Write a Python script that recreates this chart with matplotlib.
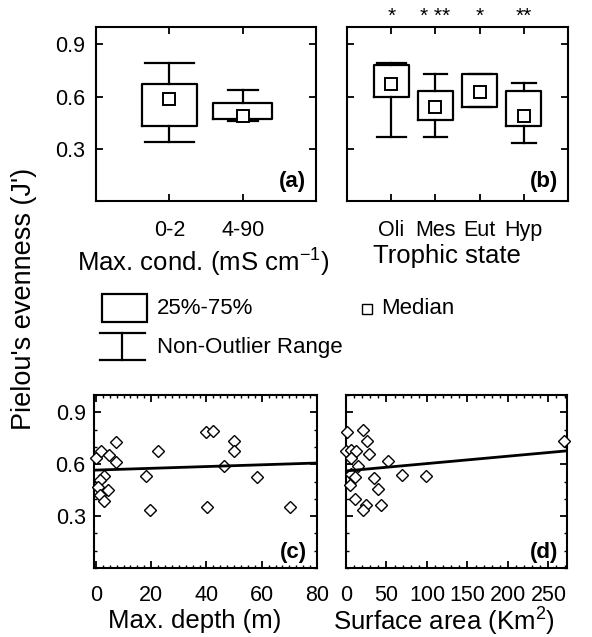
import numpy as np
import matplotlib
matplotlib.use("Agg")
import matplotlib.pyplot as plt
import matplotlib.ticker as mtick
import matplotlib.transforms as mtrans
from matplotlib.patches import Rectangle

plt.rcParams['font.family'] = ['Liberation Sans', 'DejaVu Sans']
plt.rcParams['mathtext.fontset'] = 'custom'
plt.rcParams['mathtext.rm'] = 'Liberation Sans'
plt.rcParams['mathtext.it'] = 'Liberation Sans:italic'
plt.rcParams['mathtext.bf'] = 'Liberation Sans:bold'

# (a) max. conductivity classes
cond_labels = ["0-2", "4-90"]
cond_q1 = [0.43, 0.47]
cond_q3 = [0.675, 0.565]
cond_med = [0.585, 0.49]
cond_lo = [0.34, 0.457]
cond_hi = [0.795, 0.64]

# (b) trophic state
troph_labels = ["Oli", "Mes", "Eut", "Hyp"]
troph_q1 = [0.595, 0.465, 0.54, 0.43]
troph_q3 = [0.78, 0.635, 0.73, 0.635]
troph_med = [0.675, 0.54, 0.625, 0.49]
troph_lo = [0.365, 0.365, 0.54, 0.335]
troph_hi = [0.795, 0.73, 0.73, 0.68]
troph_sig = ["*", "* **", "*", "**"]

# (c) max. depth (m) vs J'
depth_m = [0, 1.8, 4.6, 7.4, 7.4, 22.5, 2.9, 1.3, 0.7, 4.3, 1.3, 2.9,
           18.1, 19.4, 40, 42.3, 49.9, 49.9, 46.5, 58.3, 40.1, 70.2]
depth_j = [0.638, 0.676, 0.653, 0.73, 0.611, 0.676, 0.534, 0.509, 0.47, 0.451, 0.422, 0.387,
           0.534, 0.335, 0.788, 0.792, 0.734, 0.676, 0.591, 0.524, 0.354, 0.354]
depth_fit = [0.566, 0.00051]   # intercept, slope

# (d) surface area (km2) vs J'
area_km2 = [1.6, 21, 26, 0.4, 6.5, 12.7, 29, 6.5, 14.8, 52, 6.5, 10.7,
            35, 4.6, 39.5, 10.7, 25, 21, 43, 69, 99, 269]
area_j = [0.788, 0.798, 0.734, 0.676, 0.682, 0.676, 0.657, 0.634, 0.591, 0.618, 0.542, 0.528,
          0.518, 0.48, 0.457, 0.399, 0.364, 0.335, 0.364, 0.538, 0.532, 0.734]
area_fit = [0.561, 0.000426]

W, H = 592, 637
TICK_FS = 15.5
LABEL_FS = 18.5
TAG_FS = 16

fig = plt.figure(figsize=(W / 100, H / 100), dpi=100)


def px_axes(x0, y0, x1, y1):
    return fig.add_axes([x0 / W, 1 - y1 / H, (x1 - x0) / W, (y1 - y0) / H])


def style(ax, lw=1.5):
    for s in ax.spines.values():
        s.set_linewidth(lw)
    ax.set_ylim(0, 1.0)
    ax.yaxis.set_major_locator(mtick.FixedLocator([0.3, 0.6, 0.9]))
    ax.yaxis.set_major_formatter(mtick.FormatStrFormatter('%.1f'))


def boxes(ax, q1, q3, med, lo, hi, labels, widths, caps):
    pos = np.arange(1, len(labels) + 1)
    stats = [dict(q1=a, q3=b, med=m, whislo=l, whishi=h, fliers=[])
             for a, b, m, l, h in zip(q1, q3, med, lo, hi)]
    lp = dict(color='black', linewidth=1.6)
    ax.bxp(stats, positions=pos, widths=widths, capwidths=caps, showfliers=False,
           boxprops=lp, whiskerprops=lp, capprops=lp,
           medianprops=dict(linestyle='none'))
    ax.plot(pos, med, 's', ms=8.5, mfc='white', mec='black', mew=1.4, zorder=5)
    ax.set_xlim(0, len(labels) + 1)
    ax.set_xticks(pos)
    ax.set_xticklabels(labels)
    ax.tick_params(direction='in', top=True, right=True, length=5, width=1.3,
                   labelsize=TICK_FS)
    ax.tick_params(axis='x', pad=14)
    ax.tick_params(axis='y', pad=8)


def tag(ax, s, x, y):
    ax.text(x, y, s, transform=ax.transAxes, ha='right', va='bottom',
            fontsize=TAG_FS, fontweight='bold')


ax_a = px_axes(96, 27, 316, 201)
style(ax_a)
boxes(ax_a, cond_q1, cond_q3, cond_med, cond_lo, cond_hi, cond_labels,
      [0.75, 0.8], [0.67, 0.41])
ax_a.set_xlabel(r"Max. cond. (mS cm$^{-1}$)", fontsize=LABEL_FS)
ax_a.xaxis.set_label_coords(0.486, -0.265)
tag(ax_a, "(a)", 0.955, 0.05)

ax_b = px_axes(347, 27, 568, 201)
style(ax_b)
boxes(ax_b, troph_q1, troph_q3, troph_med, troph_lo, troph_hi, troph_labels,
      0.8, [0.65, 0.53, 0.5, 0.55])
ax_b.set_yticklabels([])
ax_b.set_xlabel("Trophic state", fontsize=LABEL_FS)
ax_b.xaxis.set_label_coords(0.452, -0.245)
tag(ax_b, "(b)", 0.955, 0.05)
tr = mtrans.blended_transform_factory(ax_b.transData, ax_b.transAxes)
for i, s in enumerate(troph_sig):
    ax_b.text(i + 1, 1.06, s, transform=tr, ha='center', va='center', fontsize=15)


def scatter_panel(ax, x, y, fit, xlim, xticks, minor):
    style(ax)
    ax.set_xlim(*xlim)
    ax.set_xticks(xticks)
    ax.xaxis.set_minor_locator(mtick.MultipleLocator(minor))
    ax.yaxis.set_minor_locator(mtick.MultipleLocator(0.1))
    ax.plot(x, y, 'D', ms=6, mfc='white', mec='black', mew=1.0, ls='none',
            clip_on=False, zorder=3)
    xf = np.array(xlim)
    ax.plot(xf, fit[0] + fit[1] * xf, color='black', lw=2, zorder=4)
    ax.tick_params(which='both', direction='in', top=True, right=True, labelsize=TICK_FS)
    ax.tick_params(which='major', length=5, width=1.3)
    ax.tick_params(which='minor', length=2.5, width=1.0)
    ax.tick_params(axis='x', pad=12)
    ax.tick_params(axis='y', pad=6)


ax_c = px_axes(94, 395, 317, 568)
scatter_panel(ax_c, depth_m, depth_j, depth_fit, (-0.7, 80), [0, 20, 40, 60, 80], 2.5)
ax_c.set_xlabel("Max. depth (m)", fontsize=LABEL_FS)
ax_c.xaxis.set_label_coords(0.453, -0.235)
tag(ax_c, "(c)", 0.955, 0.03)

ax_d = px_axes(346, 395, 567, 568)
scatter_panel(ax_d, area_km2, area_j, area_fit, (0, 273), [0, 50, 100, 150, 200, 250], 10)
ax_d.set_yticklabels([])
ax_d.set_xlabel(r"Surface area (Km$^2$)", fontsize=LABEL_FS)
ax_d.xaxis.set_label_coords(0.443, -0.22)
tag(ax_d, "(d)", 0.96, 0.03)

fig.text(24 / W, 1 - 299 / H, "Pielou's evenness (J')", rotation=90,
         ha='center', va='center', fontsize=19.5)

# legend drawn in pixel coordinates
lg = fig.add_axes([0, 0, 1, 1], zorder=-1)
lg.set_xlim(0, W)
lg.set_ylim(H, 0)
lg.axis('off')
lg.add_patch(Rectangle((102, 294), 45, 28, fill=False, lw=1.6, ec='black'))
lg.text(157, 309, "25%-75%", va='center', fontsize=16)
lg.plot([367], [309], 's', ms=6.5, mfc='white', mec='black', mew=1.0)
lg.text(381, 309, "Median", va='center', fontsize=16)
lg.plot([100, 145], [333, 333], color='black', lw=1.6)
lg.plot([100, 145], [360, 360], color='black', lw=1.6)
lg.plot([122, 122], [333, 360], color='black', lw=1.6)
lg.text(157, 347, "Non-Outlier Range", va='center', fontsize=16)

fig.savefig("out.png", dpi=100)
